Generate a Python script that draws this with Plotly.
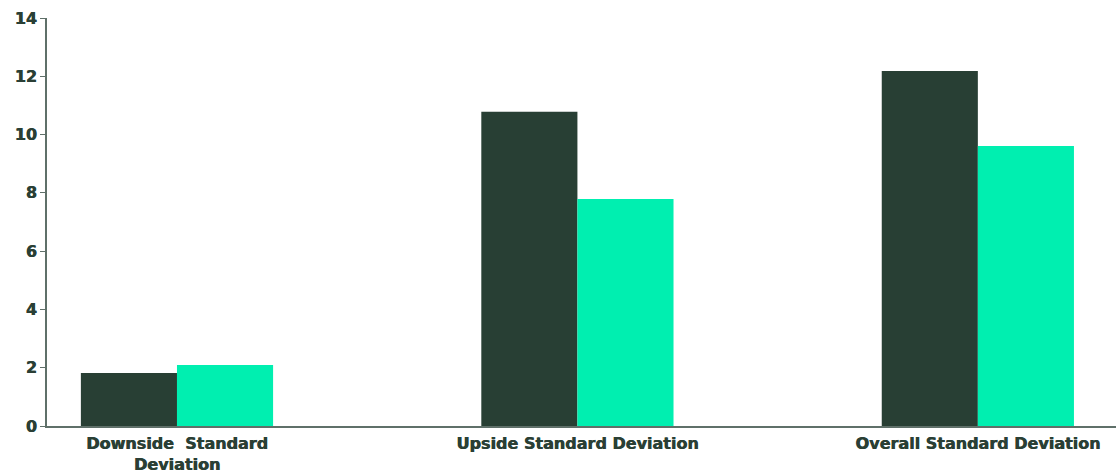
import plotly.graph_objects as go

categories = ["Downside  Standard<br>Deviation", "Upside Standard Deviation", "Overall Standard Deviation"]
series_a = [1.82, 10.78, 12.18]
series_b = [2.09, 7.79, 9.61]
y_ticks = [0, 2, 4, 6, 8, 10, 12, 14]

DARK = "#283f34"
MINT = "#00efb0"
TEXT = "#2a3f35"
AXIS = "#5f7069"
FONT = "DejaVu Sans"
SHADOW = "0.6px 0px 0px #2a3f35"

fig = go.Figure()
fig.add_trace(go.Bar(x=categories, y=series_a, marker=dict(color=DARK, line=dict(width=0)), name="A"))
fig.add_trace(go.Bar(x=categories, y=series_b, marker=dict(color=MINT, line=dict(width=0)), name="B"))

fig.update_layout(
    width=1119, height=473,
    margin=dict(l=47, r=3, t=18, b=47),
    paper_bgcolor="white", plot_bgcolor="white",
    barmode="group", bargap=0.52, bargroupgap=0,
    showlegend=False,
    font=dict(family=FONT, color=TEXT),
)
fig.update_xaxes(
    type="category", range=[-0.3246, 2.345], automargin=False,
    showline=True, linecolor=AXIS, linewidth=2,
    showgrid=False, ticks="", zeroline=False, ticklabelstandoff=2,
    tickfont=dict(family=FONT, size=16, weight="bold", color=TEXT, shadow=SHADOW),
)
fig.update_yaxes(
    range=[0, 14], tickvals=y_ticks, automargin=False,
    showline=True, linecolor=AXIS, linewidth=2,
    showgrid=False, zeroline=False,
    ticks="outside", ticklen=5, tickcolor=AXIS, tickwidth=1,
    tickfont=dict(family=FONT, size=16, weight="bold", color=TEXT, shadow=SHADOW),
)

fig.write_html("out.html")
